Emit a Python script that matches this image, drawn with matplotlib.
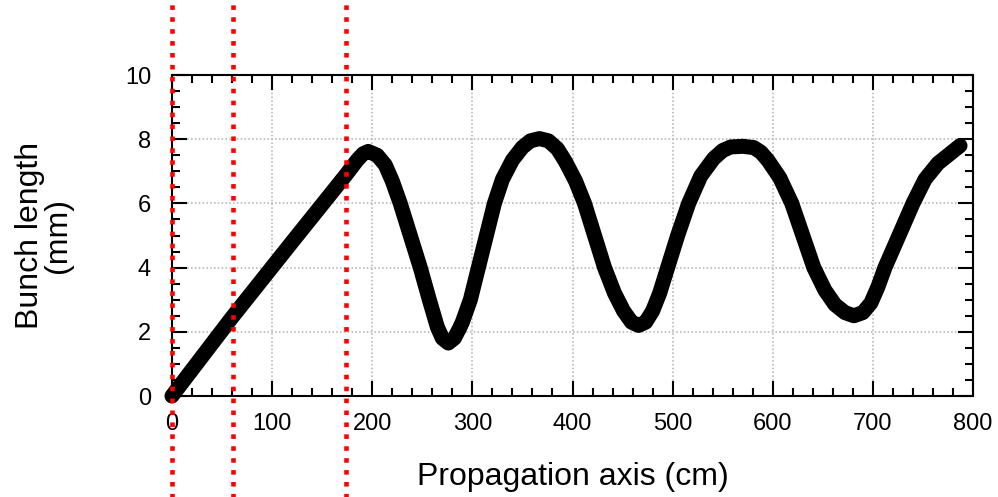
import matplotlib
matplotlib.use("Agg")
import matplotlib.pyplot as plt
from matplotlib.ticker import MultipleLocator

plt.rcParams['font.family'] = ['Liberation Sans', 'DejaVu Sans']

# Data
z_cm = [0, 60, 120, 174, 185, 191, 196, 205, 213, 220, 228, 238, 248, 257, 265, 270, 276,
        282, 287, 290, 298, 306, 314, 322, 330, 340, 350, 358, 367, 376, 385, 393, 403,
        412, 422, 432, 442, 451, 459, 466, 473, 480, 487, 495, 505, 516, 528, 541, 550,
        558, 570, 581, 588, 595, 607, 619, 630, 641, 652, 662, 672, 681, 690, 698, 705,
        712, 726, 740, 752, 765, 777, 787]
bunch_mm = [0, 2.45, 4.8, 6.9, 7.35, 7.55, 7.62, 7.5, 7.2, 6.7, 6.0, 5.0, 4.0, 3.0, 2.15, 1.8, 1.65,
            1.8, 2.1, 2.3, 3.0, 4.0, 5.0, 6.0, 6.75, 7.35, 7.75, 7.95, 8.02, 7.95, 7.7, 7.3, 6.7,
            6.0, 5.0, 4.0, 3.2, 2.65, 2.3, 2.2, 2.3, 2.65, 3.2, 4.0, 5.0, 6.0, 6.85, 7.4, 7.65,
            7.76, 7.78, 7.74, 7.6, 7.35, 6.8, 6.0, 5.0, 4.0, 3.3, 2.85, 2.6, 2.5, 2.6, 2.9, 3.4,
            4.0, 5.0, 6.0, 6.75, 7.25, 7.55, 7.8]
red_lines_cm = [0.5, 61, 174]

xticks = [0, 100, 200, 300, 400, 500, 600, 700, 800]
yticks = [0, 2, 4, 6, 8, 10]

fig = plt.figure(figsize=(9.98, 4.97), dpi=100)
ax = fig.add_axes([0.1723, 0.2032, 0.8027, 0.6458])

ax.plot(z_cm, bunch_mm, color='black', linewidth=10.8, solid_capstyle='round',
        solid_joinstyle='round', zorder=3, clip_on=False)

for xv in red_lines_cm:
    ax.axvline(xv, ymin=-0.4, ymax=1.3, color='#ff0000', linewidth=3.3,
               linestyle=(0, (1, 1.6)), dash_capstyle='butt', clip_on=False, zorder=4)

ax.set_xlim(0, 800)
ax.set_ylim(0, 10)
ax.set_xticks(xticks)
ax.set_yticks(yticks)
ax.xaxis.set_minor_locator(MultipleLocator(20))
ax.yaxis.set_minor_locator(MultipleLocator(0.5))

ax.grid(True, which='major', color='#b0b0b0', linestyle=(0, (1, 1.5)), linewidth=1.1)
ax.set_axisbelow(True)

ax.tick_params(which='both', direction='in', top=True, right=True, width=1.5, colors='black')
ax.tick_params(which='major', length=10.5, labelsize=17)
ax.tick_params(which='minor', length=5.5)
ax.tick_params(axis='x', which='major', pad=12)
ax.tick_params(axis='y', which='major', pad=15)

for sp in ax.spines.values():
    sp.set_linewidth(1.5)

ax.set_xlabel('Propagation axis (cm)', fontsize=23, labelpad=20)
ax.set_ylabel('Bunch length\n(mm)', fontsize=23, labelpad=37, linespacing=0.95)

fig.savefig('out.png', dpi=100)
